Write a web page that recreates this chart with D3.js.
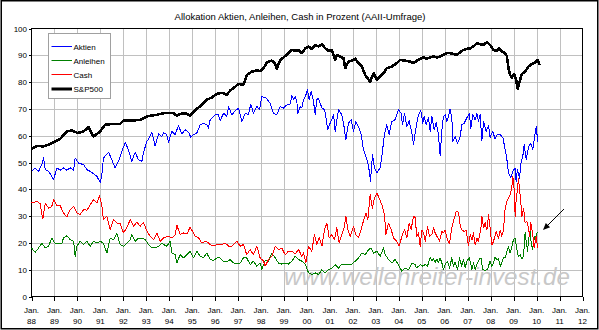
<!DOCTYPE html>
<html><head><meta charset="utf-8">
<script src="https://cdn.jsdelivr.net/npm/d3@7"></script>
<style>
html,body{margin:0;padding:0;background:#fff;}
svg{display:block;}
text{font-family:"Liberation Sans",Arial,sans-serif;fill:#000;}
</style></head>
<body>
<svg id="c" width="599" height="330"></svg>
<script>
// ---- data (months since Jan 1988) ----
const title = "Allokation Aktien, Anleihen, Cash in Prozent (AAII-Umfrage)";
const yearLabels = ["88","89","90","91","92","93","94","95","96","97","98","99","00","01","02","03","04","05","06","07","08","09","10","11","12"];
const yTicks = [0,10,20,30,40,50,60,70,80,90,100];
const seriesNames = ["Aktien","Anleihen","Cash","S&P500"];

const aktienMonths = [0,1.9,3.7,5.4,6.3,7.2,8.9,10.1,11.5,13.3,15.0,16.7,18.5,20.2,22.0,22.8,24.6,27.2,29.0,30.7,32.4,34.2,35.9,36.8,37.6,40.3,42.0,43.7,45.5,47.2,49.0,50.7,52.4,54.2,55.9,57.7,58.5,60.3,61.2,62.9,64.6,66.4,68.1,69.0,
70.7,71.6,73.4,75.1,76.8,78.6,80.3,82.1,83.3,84.7,86.4,88.2,89.9,91.6,92.5,93.4,96.0,97.7,98.6,100.4,102.1,103.0,104.7,106.5,108.2,110.0,111.7,113.4,114.6,116.0,117.8,119.2,120.4,122.7,124.7,126.5,128.2,130.0,131.7,133.5,135.2,
136.1,137.0,137.8,138.7,139.2,140.4,141.3,142.2,143.1,144.3,145.1,146.2,147.4,148.3,149.1,150.0,151.8,153.2,153.9,154.9,156.1,157.9,158.7,160.5,162.2,163.1,164.3,165.7,167.1,168.3,169.5,170.9,172.3,173.5,174.8,176.2,177.2,178.2,179.3,180.5,182.2,183.1,184.5,185.7,186.9,188.3,190.1,191.8,193.2,193.9,195.0,196.2,197.4,198.8,199.7,200.5,
201.4,202.3,203.5,204.5,205.2,206.3,207.5,208.4,209.3,210.5,211.5,212.7,213.6,214.5,215.3,216.2,217.1,218.0,218.8,219.7,220.2,221.4,222.7,224.1,224.9,226.2,227.5,228.9,229.6,230.7,231.9,232.8,233.6,234.5,235.4,236.3,237.6,238.9,239.7,241.1,242.3,243.6,245.0,246.4,247.6,248.5,249.3,250.5,251.6,252.8,253.3,254.0,255.1,255.8,256.8,257.5,258.6,259.8,261.0,262.0,262.7,263.8,264.6];
const aktienValues = [46.7,48.0,46.7,49.2,51.7,47.3,46.7,45.5,43.6,48.0,47.1,48.0,47.1,48.0,47.1,51.7,49.8,49.2,47.3,46.7,45.8,44.8,42.6,45.5,51.7,53.8,51.0,48.0,50.5,54.1,57.5,54.7,50.5,53.8,51.0,50.5,53.6,57.9,58.8,61.2,56.2,60.7,59.7,61.2,
60.4,57.6,61.6,60.4,63.8,60.6,62.2,61.3,59.4,60.4,61.0,64.1,64.7,64.1,62.8,66.0,67.8,67.8,65.6,68.4,67.2,70.9,67.8,69.3,70.3,65.3,68.4,67.8,71.8,68.4,70.9,69.7,74.6,74.0,72.1,68.4,67.8,70.9,70.3,71.5,71.8,
75.0,73.4,74.6,72.7,68.4,70.9,70.3,73.4,74.6,77.1,73.4,76.7,72.7,67.8,73.4,74.0,70.3,69.7,66.6,62.2,64.7,67.8,61.6,69.7,67.8,64.7,58.5,64.7,66.0,61.6,65.3,63.4,60.4,54.8,52.3,48.6,43.0,52.9,48.0,46.1,48.0,52.3,60.4,64.1,60.4,65.3,66.0,69.7,68.4,64.1,68.4,63.4,65.6,61.0,56.6,61.0,
64.7,67.8,69.3,64.7,67.2,64.1,66.6,61.6,67.2,62.2,65.0,60.4,52.7,62.2,67.2,67.8,65.3,67.2,70.0,66.6,57.8,59.7,57.2,59.7,64.1,64.7,66.6,68.4,62.8,67.8,65.9,68.4,65.3,67.8,58.1,65.3,61.6,63.8,59.4,61.6,58.8,60.6,60.4,59.2,54.8,51.0,46.1,44.4,46.7,48.0,43.0,47.3,44.1,49.8,52.3,56.6,51.0,56.0,57.2,54.8,58.1,63.5,57.8];

const anleihenMonths = [0,1.9,3.7,5.4,7.2,8.9,10.6,12.4,14.1,15.9,16.7,18.5,20.2,22.0,22.8,23.7,25.4,27.2,29.0,30.7,32.4,34.2,35.9,37.6,39.4,41.1,42.9,44.6,46.3,48.1,49.8,51.6,52.4,54.2,55.9,57.7,59.4,61.2,62.9,64.6,66.4,68.1,69.0,
70.7,72.5,73.4,75.1,76.0,77.7,79.5,81.2,82.9,84.7,86.4,88.2,89.9,91.6,93.4,95.1,96.9,98.6,100.4,102.1,103.8,105.6,107.3,109.1,110.8,112.5,114.3,116.0,117.8,119.5,120.4,122.1,123.9,125.6,127.4,129.1,130.8,132.6,134.3,
136.1,137.8,139.6,141.3,143.1,144.8,146.5,148.3,150.0,151.8,153.5,155.2,157.0,158.7,160.5,162.2,164.0,165.7,167.4,169.2,170.9,172.7,174.4,176.2,177.5,178.8,180.5,182.2,184.0,184.9,186.6,188.3,190.1,191.8,193.6,195.3,197.1,198.8,200.5,
201.1,202.3,203.5,204.5,205.8,207.0,208.4,209.3,210.1,211.0,211.9,212.7,213.6,214.5,215.3,216.2,217.4,218.5,219.7,220.6,221.4,222.7,223.7,224.9,225.8,226.7,227.5,228.9,230.2,231.0,231.9,232.8,234.2,234.9,235.9,237.1,238.3,239.7,240.6,241.5,242.3,243.2,244.1,245.0,245.8,246.7,247.6,248.5,249.3,250.2,251.1,251.9,252.8,253.7,254.5,255.4,256.3,257.2,258.0,258.6,259.3,259.8,260.6,261.2,262.0,262.7,263.2,264.1,264.6];
const anleihenValues = [18.1,16.5,18.1,19.9,18.1,18.7,21.8,19.7,19.9,19.9,21.8,22.7,21.2,20.6,15.0,18.7,20.6,19.4,20.6,18.7,20.6,19.9,20.6,19.9,16.2,21.8,21.2,23.7,19.4,18.7,19.9,21.2,23.1,20.6,21.8,21.8,21.2,19.4,18.1,18.1,18.7,19.9,19.4,
18.8,20.6,16.2,15.6,12.5,15.6,14.4,15.6,16.9,14.4,16.9,15.0,14.4,16.2,13.8,13.4,14.4,14.4,12.9,12.9,13.8,12.5,12.5,12.5,14.4,14.4,11.9,13.2,11.3,12.5,10.0,13.4,13.2,16.2,14.4,12.5,12.1,12.5,12.1,
13.2,15.0,13.8,13.2,12.1,8.8,8.2,8.8,8.2,10.0,8.8,10.0,10.6,11.9,10.6,12.1,11.9,12.1,12.1,13.2,14.4,16.2,15.6,17.5,18.1,16.2,16.9,15.0,18.1,15.6,13.8,12.5,13.8,11.9,9.4,10.6,10.0,12.5,11.9,
10.6,11.3,11.9,11.3,11.9,11.3,14.7,13.2,14.0,12.8,14.0,12.5,14.4,12.5,10.0,11.9,13.2,10.6,14.4,11.3,12.8,10.0,14.4,11.3,13.8,10.6,13.2,14.4,10.0,12.5,10.0,11.9,14.0,14.4,10.0,9.8,10.0,13.2,11.3,12.5,14.7,13.8,14.0,11.3,12.5,14.7,14.4,16.9,18.5,16.2,18.7,21.2,21.8,17.5,15.0,15.6,14.0,15.0,23.9,20.5,16.9,21.2,24.3,19.9,17.5,22.5,21.2,23.7,23.9];

const cashMonths = [0,2.8,4.5,5.9,7.2,8.9,10.6,11.5,13.3,15.0,16.7,18.5,20.2,22.0,23.7,25.4,27.2,29.0,30.7,32.4,34.2,35.6,36.8,37.6,39.4,41.1,42.9,44.6,46.3,48.1,49.8,51.6,53.3,55.1,56.8,58.5,60.3,62.0,63.8,65.5,67.3,69.0,
71.6,73.4,75.1,76.0,77.7,79.5,81.2,82.9,84.7,85.5,87.3,89.0,90.8,92.5,94.3,96.0,97.7,99.5,101.2,103.0,104.7,107.3,109.1,110.8,112.5,114.3,116.0,117.8,119.5,121.3,122.1,123.9,125.6,127.4,129.1,130.8,132.6,134.3,
136.1,137.8,139.6,141.3,142.2,143.4,144.8,146.5,147.9,149.1,150.4,151.8,153.2,154.4,155.6,157.0,158.4,159.6,160.8,162.2,163.6,164.3,165.4,166.6,168.3,169.5,170.9,172.3,173.5,174.8,175.8,177.0,178.2,179.3,180.5,181.7,183.1,184.5,185.2,186.6,188.0,189.2,190.9,192.2,193.6,195.0,196.2,197.4,198.4,199.7,200.5,
201.4,202.3,203.2,204.0,204.9,205.8,207.0,208.0,209.3,210.1,211.0,211.9,213.3,214.5,215.3,216.2,217.4,218.5,219.7,220.9,222.0,223.2,224.1,224.9,226.2,227.2,228.4,229.3,230.2,231.0,231.9,232.8,233.6,234.9,235.4,236.3,237.1,238.0,238.9,239.7,240.6,241.5,242.9,244.1,245.0,245.8,246.7,247.6,248.5,249.3,250.2,251.1,251.6,252.3,252.8,253.3,254.0,254.5,255.1,255.8,256.3,257.2,258.0,258.9,259.8,260.3,261.0,262.0,262.7,263.8,264.5];
const cashValues = [34.9,35.5,34.6,28.9,34.9,33.0,33.6,36.1,33.9,33.9,31.2,29.7,32.4,33.6,31.2,30.6,32.4,32.2,34.3,36.1,34.9,37.6,33.6,28.7,29.9,25.0,28.7,27.4,27.4,23.7,25.6,28.7,26.2,27.7,26.2,27.7,24.4,22.5,21.2,23.7,20.6,21.9,
22.5,21.9,23.1,26.6,23.1,23.7,23.3,25.8,23.7,22.5,21.9,20.0,20.6,20.0,18.8,19.1,19.4,19.4,20.0,18.8,18.8,20.6,18.8,19.4,15.6,17.5,15.6,18.8,14.4,13.2,11.3,13.8,15.0,18.8,17.5,18.1,15.6,16.9,
16.9,15.9,17.5,15.0,16.3,12.5,18.8,16.9,23.1,19.4,21.9,18.8,25.0,27.4,21.9,23.1,21.2,25.6,20.0,23.1,26.2,30.0,25.0,22.5,26.2,23.1,21.9,25.0,28.2,31.2,28.7,38.0,33.0,36.8,38.6,36.8,34.3,30.6,23.1,27.4,25.0,21.9,20.6,18.8,22.5,25.0,21.9,27.4,25.0,30.0,29.4,
22.5,23.7,18.7,24.8,23.7,20.6,26.2,22.5,23.1,25.6,23.7,22.5,20.6,24.3,23.7,24.8,21.1,19.9,25.6,29.0,31.8,31.4,26.2,24.8,24.3,24.8,19.0,23.1,21.1,23.7,19.2,21.7,20.6,25.6,29.9,25.6,27.5,24.8,30.5,25.6,19.2,20.6,24.3,21.7,24.8,22.5,24.8,33.0,35.5,36.8,38.0,41.1,44.8,40.0,29.9,36.1,40.0,44.2,40.0,34.9,29.9,33.0,27.5,28.1,25.6,22.5,27.5,23.1,18.2,22.5,18.2];

const spMonths = [0,2.8,6.3,9.8,11.5,15.0,18.5,21.1,24.1,27.2,29.8,32.4,35.9,38.5,42.9,46.3,48.1,53.3,56.8,60.3,65.5,69.0,
70.7,74.2,76.0,77.7,80.3,82.9,84.7,86.4,89.0,91.6,94.3,96.9,99.5,102.1,103.8,105.6,108.2,110.8,112.5,115.2,117.8,119.5,121.3,123.0,125.6,127.4,128.2,130.0,131.7,134.3,
136.1,137.8,139.6,141.3,143.1,144.8,146.5,148.3,150.0,151.8,153.5,155.2,157.0,158.7,159.6,161.3,163.1,164.0,165.7,167.4,169.2,170.9,172.7,174.4,175.3,177.0,178.8,180.5,182.2,184.0,185.7,188.3,191.0,192.7,195.3,197.9,199.7,
201.4,203.2,204.9,206.6,208.4,210.1,211.9,213.6,215.3,217.1,218.8,220.6,222.3,224.1,225.8,227.5,229.3,231.0,232.8,234.5,236.3,238.0,239.7,241.5,243.2,244.6,245.8,247.6,248.5,249.3,250.2,251.1,252.3,253.3,254.2,255.1,256.3,258.0,259.8,261.5,263.3,264.6,265.5];
const spValues = [55.0,56.2,56.0,56.9,57.5,58.8,61.6,62.0,61.0,61.6,63.2,59.7,61.6,64.1,64.4,64.4,65.7,65.7,65.9,67.2,67.8,68.4,
68.4,68.4,67.4,68.1,68.4,67.5,68.8,70.0,71.5,73.4,74.3,75.6,76.0,75.3,76.8,77.8,79.3,79.0,82.6,83.9,84.4,84.1,85.2,87.4,88.0,86.8,85.0,88.3,89.2,90.8,
92.0,91.7,92.0,90.8,92.6,93.3,92.4,93.9,93.3,94.1,92.6,91.7,92.0,88.3,90.1,89.5,88.9,85.2,87.7,88.0,88.7,87.1,85.8,82.7,81.7,80.2,83.3,80.8,82.1,83.3,85.2,85.8,87.1,88.3,88.0,87.7,87.1,
88.0,88.7,89.2,88.7,89.2,89.6,89.2,89.6,90.2,90.8,90.8,90.5,90.2,91.2,92.0,92.4,92.6,93.3,94.5,94.1,93.9,94.9,93.9,92.0,91.7,92.6,91.4,90.8,89.6,85.2,82.7,81.7,83.0,80.8,77.5,80.2,83.0,83.9,85.8,86.7,87.4,88.3,86.4];

// ---- drawing ----
(function(){
const svg = d3.select("#c");
const pL = 31.5, pR = 582.5, pT = 28.5, pB = 296.5;
const x = d3.scaleLinear().domain([0, 288]).range([pL, pR]);
const y = d3.scaleLinear().domain([0, 100]).range([pB, pT]);

svg.append("rect").attr("x",0).attr("y",0).attr("width",599).attr("height",330).attr("fill","#fff");
svg.append("rect").attr("x",1.25).attr("y",0.75).attr("width",596.5).attr("height",328).attr("fill","none")
   .attr("stroke","#000").attr("stroke-width",1.5);

svg.append("text").attr("x",300).attr("y",19.5).attr("text-anchor","middle")
   .style("font-size","9.5px").text(title);

const g = svg.append("g");
const monthTicks = d3.range(0, 289, 12);
g.selectAll(".vg").data(monthTicks.slice(1,-1)).join("line")
  .attr("x1",d=>Math.round(x(d))+0.5).attr("x2",d=>Math.round(x(d))+0.5)
  .attr("y1",pT).attr("y2",pB).attr("stroke","#c0c0c0").attr("shape-rendering","crispEdges");
g.selectAll(".hg").data(yTicks.slice(1,-1)).join("line")
  .attr("y1",d=>Math.round(y(d))+0.5).attr("y2",d=>Math.round(y(d))+0.5)
  .attr("x1",pL).attr("x2",pR).attr("stroke","#c0c0c0").attr("shape-rendering","crispEdges");

svg.append("text").attr("x",284).attr("y",284.5)
  .attr("textLength",286).attr("lengthAdjust","spacingAndGlyphs")
  .style("font-size","24px").style("font-style","italic").style("fill","#c8c8c8")
  .text("www.wellenreiter-invest.de");

svg.append("rect").attr("x",pL).attr("y",pT).attr("width",pR-pL).attr("height",pB-pT)
  .attr("fill","none").attr("stroke","#000").attr("shape-rendering","crispEdges");

const xAxis = d3.axisBottom(x).tickValues(monthTicks).tickSize(4).tickFormat("");
const xa = svg.append("g").attr("transform",`translate(0,${pB})`).call(xAxis);
xa.select(".domain").remove();
xa.selectAll("line").attr("shape-rendering","crispEdges");
const yAxis = d3.axisLeft(y).tickValues(yTicks).tickSize(3).tickFormat("");
const ya = svg.append("g").attr("transform",`translate(${pL},0)`).call(yAxis);
ya.select(".domain").remove();
ya.selectAll("line").attr("shape-rendering","crispEdges");

svg.selectAll(".yl").data(yTicks).join("text")
  .attr("x",27).attr("y",d=>y(d)+3).attr("text-anchor","end").style("font-size","8px").text(d=>d);
svg.selectAll(".xl1").data(monthTicks).join("text")
  .attr("x",d=>x(d)).attr("y",312.5).attr("text-anchor","middle").style("font-size","8px").text("Jan.");
svg.selectAll(".xl2").data(monthTicks).join("text")
  .attr("x",d=>x(d)).attr("y",324).attr("text-anchor","middle").style("font-size","8px").text((d,i)=>yearLabels[i]);

const line = d3.line().x(d=>x(d[0])).y(d=>y(d[1]));
const series = [
  {name:seriesNames[0], data:d3.zip(aktienMonths, aktienValues), color:"#0000ff", w:1},
  {name:seriesNames[1], data:d3.zip(anleihenMonths, anleihenValues), color:"#008000", w:1},
  {name:seriesNames[2], data:d3.zip(cashMonths, cashValues), color:"#ff0000", w:1},
  {name:seriesNames[3], data:d3.zip(spMonths, spValues), color:"#000000", w:2.6}
];
svg.selectAll(".s").data(series).join("path")
  .attr("d",d=>line(d.data)).attr("fill","none")
  .attr("stroke",d=>d.color).attr("stroke-width",d=>d.w).attr("stroke-linejoin","round")
  .attr("shape-rendering","crispEdges");

const lg = svg.append("g");
lg.append("rect").attr("x",48.5).attr("y",33.5).attr("width",61.5).attr("height",65)
  .attr("fill","#fff").attr("stroke","#a0a0a0").attr("shape-rendering","crispEdges");
const ly = [46.5,60.5,74.5,89];
series.forEach((s,i)=>{
  lg.append("line").attr("x1",51.5).attr("x2",72).attr("y1",ly[i]).attr("y2",ly[i])
    .attr("stroke",s.color).attr("stroke-width",s.w===1?1:3);
  lg.append("text").attr("x",73.5).attr("y",ly[i]+3).style("font-size","8px").text(s.name);
});

svg.append("line").attr("x1",564).attr("y1",209).attr("x2",547).attr("y2",226).attr("stroke","#000");
svg.append("path").attr("d","M543,230 L550.1,227.2 L545.8,222.9 Z").attr("fill","#000");
})();
</script>
</body></html>
